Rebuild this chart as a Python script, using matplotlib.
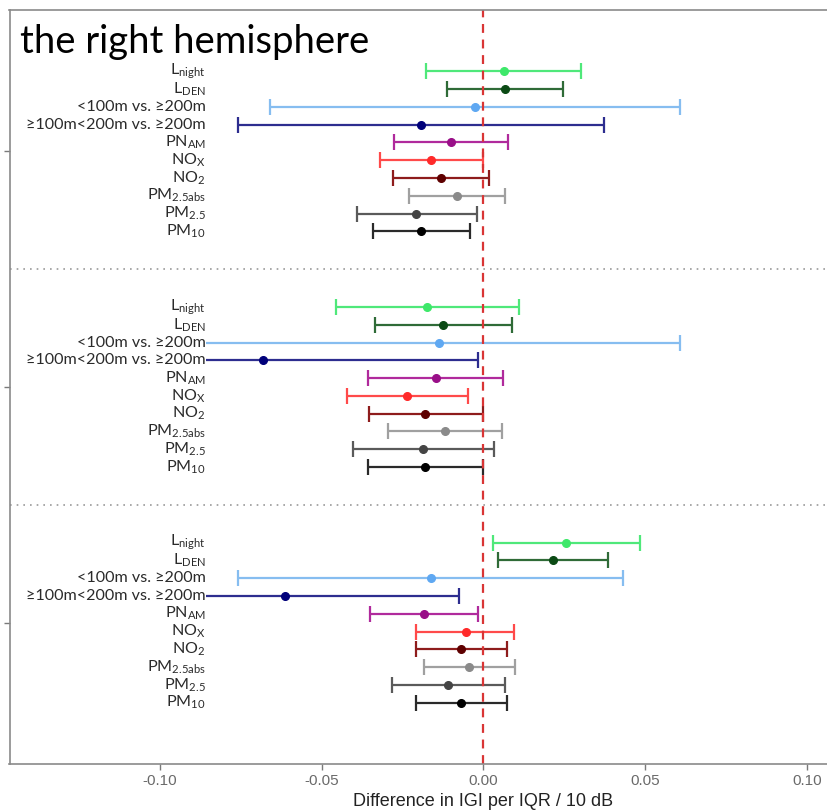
import matplotlib.pyplot as plt
from matplotlib.patches import Rectangle

plt.rcParams['mathtext.fontset'] = 'custom'
plt.rcParams['mathtext.rm'] = 'Lato'
plt.rcParams['mathtext.it'] = 'Lato'
plt.rcParams['mathtext.bf'] = 'Lato'

# exposures (top to bottom within each block)
labels = ['L$_{\\mathrm{night}}$', 'L$_{\\mathrm{DEN}}$', '<100m vs. ≥200m',
          '≥100m<200m vs. ≥200m', 'PN$_{\\mathrm{AM}}$', 'NO$_{\\mathrm{X}}$',
          'NO$_{\\mathrm{2}}$', 'PM$_{\\mathrm{2.5abs}}$', 'PM$_{\\mathrm{2.5}}$',
          'PM$_{\\mathrm{10}}$']
line_colors = ['#4fe87a', '#2f6b37', '#86bdf0', '#2d2d8f', '#b02a9c',
               '#ff4a4a', '#8e1c1c', '#a0a0a0', '#5a5a5a', '#2a2a2a']
dot_colors = ['#3ee86a', '#0b4a14', '#5fa8f2', '#00007a', '#990f88',
              '#ff2a2a', '#5e0000', '#8a8a8a', '#444444', '#000000']

# block 1 (top)
est1 = [0.0062, 0.0066, -0.0026, -0.0193, -0.0100, -0.0161, -0.0130, -0.0083, -0.0207, -0.0192]
lo1 = [-0.0179, -0.0114, -0.0659, -0.0759, -0.0276, -0.0321, -0.0278, -0.0231, -0.0391, -0.0341]
hi1 = [0.0301, 0.0246, 0.0606, 0.0373, 0.0076, -0.0003, 0.0018, 0.0067, -0.0021, -0.0042]

# block 2 (middle)
est2 = [-0.0173, -0.0126, -0.0138, -0.0682, -0.0146, -0.0236, -0.0181, -0.0118, -0.0187, -0.0181]
lo2 = [-0.0455, -0.0335, -0.0880, -0.1340, -0.0356, -0.0422, -0.0355, -0.0294, -0.0403, -0.0356]
hi2 = [0.0110, 0.0087, 0.0606, -0.0018, 0.0061, -0.0048, -0.0003, 0.0057, 0.0032, -0.0003]

# block 3 (bottom)
est3 = [0.0256, 0.0214, -0.0163, -0.0612, -0.0183, -0.0055, -0.0068, -0.0044, -0.0109, -0.0069]
lo3 = [0.0029, 0.0045, -0.0758, -0.1150, -0.0351, -0.0207, -0.0208, -0.0184, -0.0283, -0.0210]
hi3 = [0.0482, 0.0383, 0.0432, -0.0077, -0.0016, 0.0094, 0.0073, 0.0098, 0.0067, 0.0072]

blocks = [(est1, lo1, hi1), (est2, lo2, hi2), (est3, lo3, hi3)]

fig = plt.figure(figsize=(8.28, 8.10), dpi=100)
ax = fig.add_axes([9.5 / 828, 46 / 810, 948 / 828, 754 / 810])

xmin, xmax = -0.1464, 0.1464
step = 0.0754
label_x = -0.0858
for g, (est, lo, hi) in enumerate(blocks, start=1):
    for i in range(len(labels)):
        y = g + (i - 4.5) * step
        ax.errorbar(est[i], y, xerr=[[est[i] - lo[i]], [hi[i] - est[i]]],
                    fmt='none', ecolor=line_colors[i], elinewidth=1.6,
                    capsize=6, capthick=1.6, zorder=2)
        ax.plot(est[i], y, 'o', color=dot_colors[i], markersize=5.5, zorder=3)
        if lo[i] < label_x:
            # bar runs under the label: mask it behind the text
            ax.add_patch(Rectangle((xmin, y - step / 2), label_x - xmin, step,
                                   facecolor='white', edgecolor='none', zorder=3.5))
        ax.text(label_x, y, labels[i], ha='right', va='center', fontsize=11.6,
                family=['Lato', 'DejaVu Sans'], color='#2a2a2a', zorder=4)

for sep in [1.5, 2.5]:
    ax.axhline(sep, color='#9a9a9a', linestyle=(0, (1, 3)), linewidth=1.2, zorder=1)
ax.axvline(0, color='#d93535', linestyle=(0, (4, 3)), linewidth=1.6, zorder=5)

ax.set_xlim(xmin, xmax)
ax.set_ylim(3.6, 0.4)
ax.set_xticks([-0.10, -0.05, 0.00, 0.05, 0.10])
ax.set_xticklabels(['-0.10', '-0.05', '0.00', '0.05', '0.10'])
ax.set_yticks([1, 2, 3])
ax.set_yticklabels(['', '', ''])
ax.tick_params(axis='both', colors='#7a7a7a', length=4, width=1)
for lab in ax.get_xticklabels():
    lab.set_family(['Liberation Sans Narrow', 'Liberation Sans'])
    lab.set_fontsize(11)
    lab.set_color('#6a6a6a')
for s in ax.spines.values():
    s.set_color('#8a8a8a')
    s.set_linewidth(1.2)
    s.set_zorder(6)

ax.set_xlabel('Difference in IGI per IQR / 10 dB', fontsize=13,
              family=['Liberation Sans Narrow', 'Liberation Sans'], color='#222222',
              labelpad=3)

fig.text(20 / 828, 1 - 53 / 810, 'the right hemisphere', fontsize=27.5,
         family=['Lato', 'DejaVu Sans'], va='baseline', ha='left', color='black')

fig.savefig('out.png', dpi=100)
